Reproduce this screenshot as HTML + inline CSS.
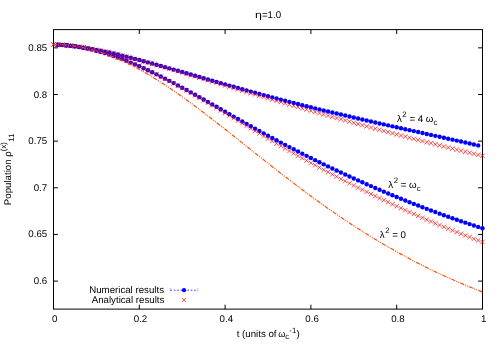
<!DOCTYPE html>
<html><head><meta charset="utf-8"><title>plot</title>
<style>html,body{margin:0;padding:0;background:#fff;width:500px;height:350px;overflow:hidden}svg{display:block}text{font-family:"Liberation Sans",sans-serif}</style>
</head><body>
<svg width="500" height="350" viewBox="0 0 500 350">
<rect width="500" height="350" fill="#fff"/>
<g stroke="#000" stroke-width="1" fill="none">
<path d="M53.5 281.10h4.4M482.5 281.10h-4.4"/>
<path d="M53.5 234.45h4.4M482.5 234.45h-4.4"/>
<path d="M53.5 187.80h4.4M482.5 187.80h-4.4"/>
<path d="M53.5 141.15h4.4M482.5 141.15h-4.4"/>
<path d="M53.5 94.50h4.4M482.5 94.50h-4.4"/>
<path d="M53.5 47.85h4.4M482.5 47.85h-4.4"/>
<path d="M53.50 309.1v-4.4M53.50 29.6v4.4"/>
<path d="M139.30 309.1v-4.4M139.30 29.6v4.4"/>
<path d="M225.10 309.1v-4.4M225.10 29.6v4.4"/>
<path d="M310.90 309.1v-4.4M310.90 29.6v4.4"/>
<path d="M396.70 309.1v-4.4M396.70 29.6v4.4"/>
<path d="M482.50 309.1v-4.4M482.50 29.6v4.4"/>
</g>
<rect x="53.5" y="29.6" width="429.0" height="279.5" fill="none" stroke="#000" stroke-width="1"/>
<g font-family="Liberation Sans, sans-serif" font-size="9.7" fill="#000" text-rendering="geometricPrecision" style="filter:grayscale(1)">
<text x="47.2" y="284.10" text-anchor="end">0.6</text>
<text x="47.2" y="237.45" text-anchor="end">0.65</text>
<text x="47.2" y="190.80" text-anchor="end">0.7</text>
<text x="47.2" y="144.15" text-anchor="end">0.75</text>
<text x="47.2" y="97.50" text-anchor="end">0.8</text>
<text x="47.2" y="50.85" text-anchor="end">0.85</text>
<text x="54.70" y="322" text-anchor="middle">0</text>
<text x="140.50" y="322" text-anchor="middle">0.2</text>
<text x="226.30" y="322" text-anchor="middle">0.4</text>
<text x="312.10" y="322" text-anchor="middle">0.6</text>
<text x="397.90" y="322" text-anchor="middle">0.8</text>
<text x="483.70" y="322" text-anchor="middle">1</text>
<text transform="translate(255.1 18.1) scale(1.28 1)">η</text><text x="261.9" y="18.1">=1.0</text>
<text x="236.7" y="336.5">t (units of <tspan font-family="Liberation Sans, sans-serif" font-size="9.2" x="278.3">ω</tspan><tspan font-size="7.76" x="285.3" dy="2.9">c</tspan><tspan font-size="7.76" x="289.3" dy="-6.4">-1</tspan><tspan x="296.5" dy="3.5">)</tspan></text>
<text transform="translate(10.8 205.2) rotate(-90)">Population <tspan font-family="Liberation Sans, sans-serif">ρ</tspan><tspan font-size="7.76" dy="-4.8">(x)</tspan><tspan font-size="7.76" dy="8.0" dx="0.3">11</tspan></text>
<text x="396.9" y="121.5"><tspan font-family="Liberation Sans, sans-serif">λ</tspan><tspan font-size="7.9" dy="-5" dx="0.6">2</tspan><tspan dy="5"> = 4 <tspan font-family="Liberation Sans, sans-serif">ω</tspan><tspan font-size="7.76" dy="3.1">c</tspan></tspan></text>
<text x="388.2" y="188.1"><tspan font-family="Liberation Sans, sans-serif">λ</tspan><tspan font-size="7.9" dy="-5" dx="0.6">2</tspan><tspan dy="5"> = <tspan font-family="Liberation Sans, sans-serif">ω</tspan><tspan font-size="7.76" dy="3.1">c</tspan></tspan></text>
<text x="379.7" y="238.1"><tspan font-family="Liberation Sans, sans-serif">λ</tspan><tspan font-size="7.9" dy="-5" dx="0.6">2</tspan><tspan dy="5"> = 0</tspan></text>
<text x="164.0" y="293" text-anchor="end">Numerical results</text>
<text x="164.4" y="302.5" text-anchor="end">Analytical results</text>
</g>
<path d="M170.4 290.2H197.8" stroke="#0000ff" stroke-width="0.8" stroke-dasharray="1.6 1.8" fill="none"/>
<path d="M170.2 287.9v4.6M197.8 287.9v4.6" stroke="#0000ff" stroke-width="0.8" stroke-opacity="0.5" stroke-dasharray="1 1.1" fill="none"/>
<circle cx="184" cy="290.2" r="2.15" fill="#0000ff"/>
<path d="M181.80 297.70l4.4 4.4M181.80 302.10l4.4 -4.4" stroke="#ff0000" stroke-width="0.72" fill="none"/>
<path d="M57.79 44.80L62.08 45.10L66.37 45.47L70.66 45.91L74.95 46.42L79.24 47.00L83.53 47.63L87.82 48.33L92.11 49.08L96.40 49.87L100.69 50.72L104.98 51.62L109.27 52.55L113.56 53.53L117.85 54.54L122.14 55.59L126.43 56.66L130.72 57.76L135.01 58.88L139.30 60.03L143.59 61.19L147.88 62.37L152.17 63.55L156.46 64.75L160.75 65.95L165.04 67.16L169.33 68.37L173.62 69.59L177.91 70.82L182.20 72.04L186.49 73.28L190.78 74.51L195.07 75.74L199.36 76.98L203.65 78.21L207.94 79.45L212.23 80.68L216.52 81.91L220.81 83.14L225.10 84.36L229.39 85.58L233.68 86.80L237.97 88.01L242.26 89.21L246.55 90.41L250.84 91.60L255.13 92.78L259.42 93.96L263.71 95.12L268.00 96.27L272.29 97.41L276.58 98.55L280.87 99.67L285.16 100.78L289.45 101.89L293.74 102.98L298.03 104.07L302.32 105.15L306.61 106.22L310.90 107.28L315.19 108.34L319.48 109.39L323.77 110.43L328.06 111.46L332.35 112.49L336.64 113.51L340.93 114.52L345.22 115.53L349.51 116.54L353.80 117.54L358.09 118.53L362.38 119.52L366.67 120.51L370.96 121.49L375.25 122.46L379.54 123.44L383.83 124.41L388.12 125.37L392.41 126.34L396.70 127.30L400.99 128.25L405.28 129.21L409.57 130.17L413.86 131.12L418.15 132.07L422.44 133.02L426.73 133.97L431.02 134.92L435.31 135.87L439.60 136.82L443.89 137.77L448.18 138.72L452.47 139.67L456.76 140.62L461.05 141.57L465.34 142.52L469.63 143.48L473.92 144.44L478.21 145.40" stroke="#0000ff" stroke-width="0.8" stroke-dasharray="1.6 1.8" fill="none"/><g fill="#0000ff"><circle cx="57.79" cy="44.80" r="2.2"/><circle cx="62.08" cy="45.10" r="2.2"/><circle cx="66.37" cy="45.47" r="2.2"/><circle cx="70.66" cy="45.91" r="2.2"/><circle cx="74.95" cy="46.42" r="2.2"/><circle cx="79.24" cy="47.00" r="2.2"/><circle cx="83.53" cy="47.63" r="2.2"/><circle cx="87.82" cy="48.33" r="2.2"/><circle cx="92.11" cy="49.08" r="2.2"/><circle cx="96.40" cy="49.87" r="2.2"/><circle cx="100.69" cy="50.72" r="2.2"/><circle cx="104.98" cy="51.62" r="2.2"/><circle cx="109.27" cy="52.55" r="2.2"/><circle cx="113.56" cy="53.53" r="2.2"/><circle cx="117.85" cy="54.54" r="2.2"/><circle cx="122.14" cy="55.59" r="2.2"/><circle cx="126.43" cy="56.66" r="2.2"/><circle cx="130.72" cy="57.76" r="2.2"/><circle cx="135.01" cy="58.88" r="2.2"/><circle cx="139.30" cy="60.03" r="2.2"/><circle cx="143.59" cy="61.19" r="2.2"/><circle cx="147.88" cy="62.37" r="2.2"/><circle cx="152.17" cy="63.55" r="2.2"/><circle cx="156.46" cy="64.75" r="2.2"/><circle cx="160.75" cy="65.95" r="2.2"/><circle cx="165.04" cy="67.16" r="2.2"/><circle cx="169.33" cy="68.37" r="2.2"/><circle cx="173.62" cy="69.59" r="2.2"/><circle cx="177.91" cy="70.82" r="2.2"/><circle cx="182.20" cy="72.04" r="2.2"/><circle cx="186.49" cy="73.28" r="2.2"/><circle cx="190.78" cy="74.51" r="2.2"/><circle cx="195.07" cy="75.74" r="2.2"/><circle cx="199.36" cy="76.98" r="2.2"/><circle cx="203.65" cy="78.21" r="2.2"/><circle cx="207.94" cy="79.45" r="2.2"/><circle cx="212.23" cy="80.68" r="2.2"/><circle cx="216.52" cy="81.91" r="2.2"/><circle cx="220.81" cy="83.14" r="2.2"/><circle cx="225.10" cy="84.36" r="2.2"/><circle cx="229.39" cy="85.58" r="2.2"/><circle cx="233.68" cy="86.80" r="2.2"/><circle cx="237.97" cy="88.01" r="2.2"/><circle cx="242.26" cy="89.21" r="2.2"/><circle cx="246.55" cy="90.41" r="2.2"/><circle cx="250.84" cy="91.60" r="2.2"/><circle cx="255.13" cy="92.78" r="2.2"/><circle cx="259.42" cy="93.96" r="2.2"/><circle cx="263.71" cy="95.12" r="2.2"/><circle cx="268.00" cy="96.27" r="2.2"/><circle cx="272.29" cy="97.41" r="2.2"/><circle cx="276.58" cy="98.55" r="2.2"/><circle cx="280.87" cy="99.67" r="2.2"/><circle cx="285.16" cy="100.78" r="2.2"/><circle cx="289.45" cy="101.89" r="2.2"/><circle cx="293.74" cy="102.98" r="2.2"/><circle cx="298.03" cy="104.07" r="2.2"/><circle cx="302.32" cy="105.15" r="2.2"/><circle cx="306.61" cy="106.22" r="2.2"/><circle cx="310.90" cy="107.28" r="2.2"/><circle cx="315.19" cy="108.34" r="2.2"/><circle cx="319.48" cy="109.39" r="2.2"/><circle cx="323.77" cy="110.43" r="2.2"/><circle cx="328.06" cy="111.46" r="2.2"/><circle cx="332.35" cy="112.49" r="2.2"/><circle cx="336.64" cy="113.51" r="2.2"/><circle cx="340.93" cy="114.52" r="2.2"/><circle cx="345.22" cy="115.53" r="2.2"/><circle cx="349.51" cy="116.54" r="2.2"/><circle cx="353.80" cy="117.54" r="2.2"/><circle cx="358.09" cy="118.53" r="2.2"/><circle cx="362.38" cy="119.52" r="2.2"/><circle cx="366.67" cy="120.51" r="2.2"/><circle cx="370.96" cy="121.49" r="2.2"/><circle cx="375.25" cy="122.46" r="2.2"/><circle cx="379.54" cy="123.44" r="2.2"/><circle cx="383.83" cy="124.41" r="2.2"/><circle cx="388.12" cy="125.37" r="2.2"/><circle cx="392.41" cy="126.34" r="2.2"/><circle cx="396.70" cy="127.30" r="2.2"/><circle cx="400.99" cy="128.25" r="2.2"/><circle cx="405.28" cy="129.21" r="2.2"/><circle cx="409.57" cy="130.17" r="2.2"/><circle cx="413.86" cy="131.12" r="2.2"/><circle cx="418.15" cy="132.07" r="2.2"/><circle cx="422.44" cy="133.02" r="2.2"/><circle cx="426.73" cy="133.97" r="2.2"/><circle cx="431.02" cy="134.92" r="2.2"/><circle cx="435.31" cy="135.87" r="2.2"/><circle cx="439.60" cy="136.82" r="2.2"/><circle cx="443.89" cy="137.77" r="2.2"/><circle cx="448.18" cy="138.72" r="2.2"/><circle cx="452.47" cy="139.67" r="2.2"/><circle cx="456.76" cy="140.62" r="2.2"/><circle cx="461.05" cy="141.57" r="2.2"/><circle cx="465.34" cy="142.52" r="2.2"/><circle cx="469.63" cy="143.48" r="2.2"/><circle cx="473.92" cy="144.44" r="2.2"/><circle cx="478.21" cy="145.40" r="2.2"/></g>
<path d="M51.30 42.39l4.4 4.4M51.30 46.79l4.4 -4.4M55.59 42.56l4.4 4.4M55.59 46.96l4.4 -4.4M59.88 42.82l4.4 4.4M59.88 47.22l4.4 -4.4M64.17 43.17l4.4 4.4M64.17 47.57l4.4 -4.4M68.46 43.59l4.4 4.4M68.46 47.99l4.4 -4.4M72.75 44.08l4.4 4.4M72.75 48.48l4.4 -4.4M77.04 44.64l4.4 4.4M77.04 49.04l4.4 -4.4M81.33 45.28l4.4 4.4M81.33 49.68l4.4 -4.4M85.62 45.97l4.4 4.4M85.62 50.37l4.4 -4.4M89.91 46.73l4.4 4.4M89.91 51.13l4.4 -4.4M94.20 47.54l4.4 4.4M94.20 51.94l4.4 -4.4M98.49 48.40l4.4 4.4M98.49 52.80l4.4 -4.4M102.78 49.31l4.4 4.4M102.78 53.71l4.4 -4.4M107.07 50.27l4.4 4.4M107.07 54.67l4.4 -4.4M111.36 51.28l4.4 4.4M111.36 55.68l4.4 -4.4M115.65 52.32l4.4 4.4M115.65 56.72l4.4 -4.4M119.94 53.39l4.4 4.4M119.94 57.79l4.4 -4.4M124.23 54.50l4.4 4.4M124.23 58.90l4.4 -4.4M128.52 55.64l4.4 4.4M128.52 60.04l4.4 -4.4M132.81 56.80l4.4 4.4M132.81 61.20l4.4 -4.4M137.10 57.98l4.4 4.4M137.10 62.38l4.4 -4.4M141.39 59.18l4.4 4.4M141.39 63.58l4.4 -4.4M145.68 60.39l4.4 4.4M145.68 64.79l4.4 -4.4M149.97 61.62l4.4 4.4M149.97 66.02l4.4 -4.4M154.26 62.85l4.4 4.4M154.26 67.25l4.4 -4.4M158.55 64.09l4.4 4.4M158.55 68.49l4.4 -4.4M162.84 65.34l4.4 4.4M162.84 69.74l4.4 -4.4M167.13 66.59l4.4 4.4M167.13 70.99l4.4 -4.4M171.42 67.85l4.4 4.4M171.42 72.25l4.4 -4.4M175.71 69.11l4.4 4.4M175.71 73.51l4.4 -4.4M180.00 70.38l4.4 4.4M180.00 74.78l4.4 -4.4M184.29 71.65l4.4 4.4M184.29 76.05l4.4 -4.4M188.58 72.93l4.4 4.4M188.58 77.33l4.4 -4.4M192.87 74.20l4.4 4.4M192.87 78.60l4.4 -4.4M197.16 75.49l4.4 4.4M197.16 79.89l4.4 -4.4M201.45 76.77l4.4 4.4M201.45 81.17l4.4 -4.4M205.74 78.06l4.4 4.4M205.74 82.46l4.4 -4.4M210.03 79.35l4.4 4.4M210.03 83.75l4.4 -4.4M214.32 80.64l4.4 4.4M214.32 85.04l4.4 -4.4M218.61 81.93l4.4 4.4M218.61 86.33l4.4 -4.4M222.90 83.22l4.4 4.4M222.90 87.62l4.4 -4.4M227.19 84.51l4.4 4.4M227.19 88.91l4.4 -4.4M231.48 85.80l4.4 4.4M231.48 90.20l4.4 -4.4M235.77 87.09l4.4 4.4M235.77 91.49l4.4 -4.4M240.06 88.38l4.4 4.4M240.06 92.78l4.4 -4.4M244.35 89.66l4.4 4.4M244.35 94.06l4.4 -4.4M248.64 90.95l4.4 4.4M248.64 95.35l4.4 -4.4M252.93 92.23l4.4 4.4M252.93 96.63l4.4 -4.4M257.22 93.51l4.4 4.4M257.22 97.91l4.4 -4.4M261.51 94.79l4.4 4.4M261.51 99.19l4.4 -4.4M265.80 96.06l4.4 4.4M265.80 100.46l4.4 -4.4M270.09 97.32l4.4 4.4M270.09 101.72l4.4 -4.4M274.38 98.59l4.4 4.4M274.38 102.99l4.4 -4.4M278.67 99.85l4.4 4.4M278.67 104.25l4.4 -4.4M282.96 101.10l4.4 4.4M282.96 105.50l4.4 -4.4M287.25 102.36l4.4 4.4M287.25 106.76l4.4 -4.4M291.54 103.60l4.4 4.4M291.54 108.00l4.4 -4.4M295.83 104.85l4.4 4.4M295.83 109.25l4.4 -4.4M300.12 106.09l4.4 4.4M300.12 110.49l4.4 -4.4M304.41 107.32l4.4 4.4M304.41 111.72l4.4 -4.4M308.70 108.55l4.4 4.4M308.70 112.95l4.4 -4.4M312.99 109.78l4.4 4.4M312.99 114.18l4.4 -4.4M317.28 111.00l4.4 4.4M317.28 115.40l4.4 -4.4M321.57 112.22l4.4 4.4M321.57 116.62l4.4 -4.4M325.86 113.43l4.4 4.4M325.86 117.83l4.4 -4.4M330.15 114.64l4.4 4.4M330.15 119.04l4.4 -4.4M334.44 115.84l4.4 4.4M334.44 120.24l4.4 -4.4M338.73 117.04l4.4 4.4M338.73 121.44l4.4 -4.4M343.02 118.23l4.4 4.4M343.02 122.63l4.4 -4.4M347.31 119.42l4.4 4.4M347.31 123.82l4.4 -4.4M351.60 120.61l4.4 4.4M351.60 125.01l4.4 -4.4M355.89 121.79l4.4 4.4M355.89 126.19l4.4 -4.4M360.18 122.96l4.4 4.4M360.18 127.36l4.4 -4.4M364.47 124.13l4.4 4.4M364.47 128.53l4.4 -4.4M368.76 125.29l4.4 4.4M368.76 129.69l4.4 -4.4M373.05 126.45l4.4 4.4M373.05 130.85l4.4 -4.4M377.34 127.60l4.4 4.4M377.34 132.00l4.4 -4.4M381.63 128.75l4.4 4.4M381.63 133.15l4.4 -4.4M385.92 129.90l4.4 4.4M385.92 134.30l4.4 -4.4M390.21 131.03l4.4 4.4M390.21 135.43l4.4 -4.4M394.50 132.17l4.4 4.4M394.50 136.57l4.4 -4.4M398.79 133.29l4.4 4.4M398.79 137.69l4.4 -4.4M403.08 134.42l4.4 4.4M403.08 138.82l4.4 -4.4M407.37 135.53l4.4 4.4M407.37 139.93l4.4 -4.4M411.66 136.64l4.4 4.4M411.66 141.04l4.4 -4.4M415.95 137.75l4.4 4.4M415.95 142.15l4.4 -4.4M420.24 138.85l4.4 4.4M420.24 143.25l4.4 -4.4M424.53 139.94l4.4 4.4M424.53 144.34l4.4 -4.4M428.82 141.03l4.4 4.4M428.82 145.43l4.4 -4.4M433.11 142.11l4.4 4.4M433.11 146.51l4.4 -4.4M437.40 143.18l4.4 4.4M437.40 147.58l4.4 -4.4M441.69 144.25l4.4 4.4M441.69 148.65l4.4 -4.4M445.98 145.32l4.4 4.4M445.98 149.72l4.4 -4.4M450.27 146.37l4.4 4.4M450.27 150.77l4.4 -4.4M454.56 147.42l4.4 4.4M454.56 151.82l4.4 -4.4M458.85 148.47l4.4 4.4M458.85 152.87l4.4 -4.4M463.14 149.51l4.4 4.4M463.14 153.91l4.4 -4.4M467.43 150.54l4.4 4.4M467.43 154.94l4.4 -4.4M471.72 151.57l4.4 4.4M471.72 155.97l4.4 -4.4M476.01 152.59l4.4 4.4M476.01 156.99l4.4 -4.4M480.30 153.60l4.4 4.4M480.30 158.00l4.4 -4.4" stroke="#ff0000" stroke-width="0.72" fill="none"/>
<path d="M57.79 44.66L62.08 44.87L66.37 45.20L70.66 45.65L74.95 46.22L79.24 46.90L83.53 47.69L87.82 48.59L92.11 49.59L96.40 50.68L100.69 51.88L104.98 53.16L109.27 54.53L113.56 55.99L117.85 57.52L122.14 59.14L126.43 60.82L130.72 62.58L135.01 64.40L139.30 66.28L143.59 68.22L147.88 70.21L152.17 72.25L156.46 74.35L160.75 76.48L165.04 78.65L169.33 80.87L173.62 83.11L177.91 85.38L182.20 87.69L186.49 90.01L190.78 92.36L195.07 94.74L199.36 97.13L203.65 99.53L207.94 101.95L212.23 104.38L216.52 106.81L220.81 109.25L225.10 111.69L229.39 114.14L233.68 116.58L237.97 119.01L242.26 121.44L246.55 123.85L250.84 126.25L255.13 128.64L259.42 131.01L263.71 133.36L268.00 135.70L272.29 138.01L276.58 140.31L280.87 142.58L285.16 144.84L289.45 147.08L293.74 149.31L298.03 151.51L302.32 153.69L306.61 155.86L310.90 158.01L315.19 160.14L319.48 162.25L323.77 164.34L328.06 166.41L332.35 168.47L336.64 170.50L340.93 172.52L345.22 174.52L349.51 176.50L353.80 178.46L358.09 180.40L362.38 182.32L366.67 184.22L370.96 186.11L375.25 187.97L379.54 189.82L383.83 191.64L388.12 193.45L392.41 195.24L396.70 197.01L400.99 198.76L405.28 200.49L409.57 202.20L413.86 203.89L418.15 205.56L422.44 207.21L426.73 208.85L431.02 210.46L435.31 212.05L439.60 213.63L443.89 215.18L448.18 216.72L452.47 218.23L456.76 219.73L461.05 221.20L465.34 222.66L469.63 224.09L473.92 225.51L478.21 226.91L482.50 228.28" stroke="#0000ff" stroke-width="0.8" stroke-dasharray="1.6 1.8" fill="none"/><g fill="#0000ff"><circle cx="57.79" cy="44.66" r="2.2"/><circle cx="62.08" cy="44.87" r="2.2"/><circle cx="66.37" cy="45.20" r="2.2"/><circle cx="70.66" cy="45.65" r="2.2"/><circle cx="74.95" cy="46.22" r="2.2"/><circle cx="79.24" cy="46.90" r="2.2"/><circle cx="83.53" cy="47.69" r="2.2"/><circle cx="87.82" cy="48.59" r="2.2"/><circle cx="92.11" cy="49.59" r="2.2"/><circle cx="96.40" cy="50.68" r="2.2"/><circle cx="100.69" cy="51.88" r="2.2"/><circle cx="104.98" cy="53.16" r="2.2"/><circle cx="109.27" cy="54.53" r="2.2"/><circle cx="113.56" cy="55.99" r="2.2"/><circle cx="117.85" cy="57.52" r="2.2"/><circle cx="122.14" cy="59.14" r="2.2"/><circle cx="126.43" cy="60.82" r="2.2"/><circle cx="130.72" cy="62.58" r="2.2"/><circle cx="135.01" cy="64.40" r="2.2"/><circle cx="139.30" cy="66.28" r="2.2"/><circle cx="143.59" cy="68.22" r="2.2"/><circle cx="147.88" cy="70.21" r="2.2"/><circle cx="152.17" cy="72.25" r="2.2"/><circle cx="156.46" cy="74.35" r="2.2"/><circle cx="160.75" cy="76.48" r="2.2"/><circle cx="165.04" cy="78.65" r="2.2"/><circle cx="169.33" cy="80.87" r="2.2"/><circle cx="173.62" cy="83.11" r="2.2"/><circle cx="177.91" cy="85.38" r="2.2"/><circle cx="182.20" cy="87.69" r="2.2"/><circle cx="186.49" cy="90.01" r="2.2"/><circle cx="190.78" cy="92.36" r="2.2"/><circle cx="195.07" cy="94.74" r="2.2"/><circle cx="199.36" cy="97.13" r="2.2"/><circle cx="203.65" cy="99.53" r="2.2"/><circle cx="207.94" cy="101.95" r="2.2"/><circle cx="212.23" cy="104.38" r="2.2"/><circle cx="216.52" cy="106.81" r="2.2"/><circle cx="220.81" cy="109.25" r="2.2"/><circle cx="225.10" cy="111.69" r="2.2"/><circle cx="229.39" cy="114.14" r="2.2"/><circle cx="233.68" cy="116.58" r="2.2"/><circle cx="237.97" cy="119.01" r="2.2"/><circle cx="242.26" cy="121.44" r="2.2"/><circle cx="246.55" cy="123.85" r="2.2"/><circle cx="250.84" cy="126.25" r="2.2"/><circle cx="255.13" cy="128.64" r="2.2"/><circle cx="259.42" cy="131.01" r="2.2"/><circle cx="263.71" cy="133.36" r="2.2"/><circle cx="268.00" cy="135.70" r="2.2"/><circle cx="272.29" cy="138.01" r="2.2"/><circle cx="276.58" cy="140.31" r="2.2"/><circle cx="280.87" cy="142.58" r="2.2"/><circle cx="285.16" cy="144.84" r="2.2"/><circle cx="289.45" cy="147.08" r="2.2"/><circle cx="293.74" cy="149.31" r="2.2"/><circle cx="298.03" cy="151.51" r="2.2"/><circle cx="302.32" cy="153.69" r="2.2"/><circle cx="306.61" cy="155.86" r="2.2"/><circle cx="310.90" cy="158.01" r="2.2"/><circle cx="315.19" cy="160.14" r="2.2"/><circle cx="319.48" cy="162.25" r="2.2"/><circle cx="323.77" cy="164.34" r="2.2"/><circle cx="328.06" cy="166.41" r="2.2"/><circle cx="332.35" cy="168.47" r="2.2"/><circle cx="336.64" cy="170.50" r="2.2"/><circle cx="340.93" cy="172.52" r="2.2"/><circle cx="345.22" cy="174.52" r="2.2"/><circle cx="349.51" cy="176.50" r="2.2"/><circle cx="353.80" cy="178.46" r="2.2"/><circle cx="358.09" cy="180.40" r="2.2"/><circle cx="362.38" cy="182.32" r="2.2"/><circle cx="366.67" cy="184.22" r="2.2"/><circle cx="370.96" cy="186.11" r="2.2"/><circle cx="375.25" cy="187.97" r="2.2"/><circle cx="379.54" cy="189.82" r="2.2"/><circle cx="383.83" cy="191.64" r="2.2"/><circle cx="388.12" cy="193.45" r="2.2"/><circle cx="392.41" cy="195.24" r="2.2"/><circle cx="396.70" cy="197.01" r="2.2"/><circle cx="400.99" cy="198.76" r="2.2"/><circle cx="405.28" cy="200.49" r="2.2"/><circle cx="409.57" cy="202.20" r="2.2"/><circle cx="413.86" cy="203.89" r="2.2"/><circle cx="418.15" cy="205.56" r="2.2"/><circle cx="422.44" cy="207.21" r="2.2"/><circle cx="426.73" cy="208.85" r="2.2"/><circle cx="431.02" cy="210.46" r="2.2"/><circle cx="435.31" cy="212.05" r="2.2"/><circle cx="439.60" cy="213.63" r="2.2"/><circle cx="443.89" cy="215.18" r="2.2"/><circle cx="448.18" cy="216.72" r="2.2"/><circle cx="452.47" cy="218.23" r="2.2"/><circle cx="456.76" cy="219.73" r="2.2"/><circle cx="461.05" cy="221.20" r="2.2"/><circle cx="465.34" cy="222.66" r="2.2"/><circle cx="469.63" cy="224.09" r="2.2"/><circle cx="473.92" cy="225.51" r="2.2"/><circle cx="478.21" cy="226.91" r="2.2"/><circle cx="482.50" cy="228.28" r="2.2"/></g>
<path d="M51.30 42.39l4.4 4.4M51.30 46.79l4.4 -4.4M55.59 42.46l4.4 4.4M55.59 46.86l4.4 -4.4M59.88 42.65l4.4 4.4M59.88 47.05l4.4 -4.4M64.17 42.97l4.4 4.4M64.17 47.37l4.4 -4.4M68.46 43.41l4.4 4.4M68.46 47.81l4.4 -4.4M72.75 43.97l4.4 4.4M72.75 48.37l4.4 -4.4M77.04 44.65l4.4 4.4M77.04 49.05l4.4 -4.4M81.33 45.44l4.4 4.4M81.33 49.84l4.4 -4.4M85.62 46.33l4.4 4.4M85.62 50.73l4.4 -4.4M89.91 47.33l4.4 4.4M89.91 51.73l4.4 -4.4M94.20 48.43l4.4 4.4M94.20 52.83l4.4 -4.4M98.49 49.62l4.4 4.4M98.49 54.02l4.4 -4.4M102.78 50.91l4.4 4.4M102.78 55.31l4.4 -4.4M107.07 52.28l4.4 4.4M107.07 56.68l4.4 -4.4M111.36 53.75l4.4 4.4M111.36 58.15l4.4 -4.4M115.65 55.29l4.4 4.4M115.65 59.69l4.4 -4.4M119.94 56.92l4.4 4.4M119.94 61.32l4.4 -4.4M124.23 58.62l4.4 4.4M124.23 63.02l4.4 -4.4M128.52 60.39l4.4 4.4M128.52 64.79l4.4 -4.4M132.81 62.22l4.4 4.4M132.81 66.62l4.4 -4.4M137.10 64.13l4.4 4.4M137.10 68.53l4.4 -4.4M141.39 66.09l4.4 4.4M141.39 70.49l4.4 -4.4M145.68 68.11l4.4 4.4M145.68 72.51l4.4 -4.4M149.97 70.19l4.4 4.4M149.97 74.59l4.4 -4.4M154.26 72.31l4.4 4.4M154.26 76.71l4.4 -4.4M158.55 74.49l4.4 4.4M158.55 78.89l4.4 -4.4M162.84 76.70l4.4 4.4M162.84 81.10l4.4 -4.4M167.13 78.95l4.4 4.4M167.13 83.35l4.4 -4.4M171.42 81.25l4.4 4.4M171.42 85.65l4.4 -4.4M175.71 83.57l4.4 4.4M175.71 87.97l4.4 -4.4M180.00 85.93l4.4 4.4M180.00 90.33l4.4 -4.4M184.29 88.32l4.4 4.4M184.29 92.72l4.4 -4.4M188.58 90.74l4.4 4.4M188.58 95.14l4.4 -4.4M192.87 93.18l4.4 4.4M192.87 97.58l4.4 -4.4M197.16 95.64l4.4 4.4M197.16 100.04l4.4 -4.4M201.45 98.13l4.4 4.4M201.45 102.53l4.4 -4.4M205.74 100.63l4.4 4.4M205.74 105.03l4.4 -4.4M210.03 103.15l4.4 4.4M210.03 107.55l4.4 -4.4M214.32 105.69l4.4 4.4M214.32 110.09l4.4 -4.4M218.61 108.24l4.4 4.4M218.61 112.64l4.4 -4.4M222.90 110.79l4.4 4.4M222.90 115.19l4.4 -4.4M227.19 113.35l4.4 4.4M227.19 117.75l4.4 -4.4M231.48 115.92l4.4 4.4M231.48 120.32l4.4 -4.4M235.77 118.49l4.4 4.4M235.77 122.89l4.4 -4.4M240.06 121.06l4.4 4.4M240.06 125.46l4.4 -4.4M244.35 123.63l4.4 4.4M244.35 128.03l4.4 -4.4M248.64 126.19l4.4 4.4M248.64 130.59l4.4 -4.4M252.93 128.74l4.4 4.4M252.93 133.14l4.4 -4.4M257.22 131.29l4.4 4.4M257.22 135.69l4.4 -4.4M261.51 133.83l4.4 4.4M261.51 138.23l4.4 -4.4M265.80 136.35l4.4 4.4M265.80 140.75l4.4 -4.4M270.09 138.85l4.4 4.4M270.09 143.25l4.4 -4.4M274.38 141.34l4.4 4.4M274.38 145.74l4.4 -4.4M278.67 143.81l4.4 4.4M278.67 148.21l4.4 -4.4M282.96 146.27l4.4 4.4M282.96 150.67l4.4 -4.4M287.25 148.71l4.4 4.4M287.25 153.11l4.4 -4.4M291.54 151.13l4.4 4.4M291.54 155.53l4.4 -4.4M295.83 153.54l4.4 4.4M295.83 157.94l4.4 -4.4M300.12 155.93l4.4 4.4M300.12 160.33l4.4 -4.4M304.41 158.30l4.4 4.4M304.41 162.70l4.4 -4.4M308.70 160.65l4.4 4.4M308.70 165.05l4.4 -4.4M312.99 162.99l4.4 4.4M312.99 167.39l4.4 -4.4M317.28 165.31l4.4 4.4M317.28 169.71l4.4 -4.4M321.57 167.61l4.4 4.4M321.57 172.01l4.4 -4.4M325.86 169.90l4.4 4.4M325.86 174.30l4.4 -4.4M330.15 172.17l4.4 4.4M330.15 176.57l4.4 -4.4M334.44 174.42l4.4 4.4M334.44 178.82l4.4 -4.4M338.73 176.65l4.4 4.4M338.73 181.05l4.4 -4.4M343.02 178.87l4.4 4.4M343.02 183.27l4.4 -4.4M347.31 181.06l4.4 4.4M347.31 185.46l4.4 -4.4M351.60 183.24l4.4 4.4M351.60 187.64l4.4 -4.4M355.89 185.40l4.4 4.4M355.89 189.80l4.4 -4.4M360.18 187.55l4.4 4.4M360.18 191.95l4.4 -4.4M364.47 189.67l4.4 4.4M364.47 194.07l4.4 -4.4M368.76 191.78l4.4 4.4M368.76 196.18l4.4 -4.4M373.05 193.87l4.4 4.4M373.05 198.27l4.4 -4.4M377.34 195.94l4.4 4.4M377.34 200.34l4.4 -4.4M381.63 197.99l4.4 4.4M381.63 202.39l4.4 -4.4M385.92 200.02l4.4 4.4M385.92 204.42l4.4 -4.4M390.21 202.03l4.4 4.4M390.21 206.43l4.4 -4.4M394.50 204.03l4.4 4.4M394.50 208.43l4.4 -4.4M398.79 206.00l4.4 4.4M398.79 210.40l4.4 -4.4M403.08 207.96l4.4 4.4M403.08 212.36l4.4 -4.4M407.37 209.89l4.4 4.4M407.37 214.29l4.4 -4.4M411.66 211.81l4.4 4.4M411.66 216.21l4.4 -4.4M415.95 213.71l4.4 4.4M415.95 218.11l4.4 -4.4M420.24 215.59l4.4 4.4M420.24 219.99l4.4 -4.4M424.53 217.45l4.4 4.4M424.53 221.85l4.4 -4.4M428.82 219.29l4.4 4.4M428.82 223.69l4.4 -4.4M433.11 221.11l4.4 4.4M433.11 225.51l4.4 -4.4M437.40 222.91l4.4 4.4M437.40 227.31l4.4 -4.4M441.69 224.69l4.4 4.4M441.69 229.09l4.4 -4.4M445.98 226.44l4.4 4.4M445.98 230.84l4.4 -4.4M450.27 228.18l4.4 4.4M450.27 232.58l4.4 -4.4M454.56 229.90l4.4 4.4M454.56 234.30l4.4 -4.4M458.85 231.60l4.4 4.4M458.85 236.00l4.4 -4.4M463.14 233.28l4.4 4.4M463.14 237.68l4.4 -4.4M467.43 234.94l4.4 4.4M467.43 239.34l4.4 -4.4M471.72 236.58l4.4 4.4M471.72 240.98l4.4 -4.4M476.01 238.19l4.4 4.4M476.01 242.59l4.4 -4.4M480.30 239.79l4.4 4.4M480.30 244.19l4.4 -4.4" stroke="#ff0000" stroke-width="0.72" fill="none"/>
<path d="M53.50 44.54L55.65 44.55L57.79 44.60L59.94 44.68L62.08 44.80L64.22 44.95L66.37 45.13L68.52 45.34L70.66 45.59L72.81 45.87L74.95 46.18L77.09 46.52L79.24 46.90L81.39 47.30L83.53 47.74L85.67 48.21L87.82 48.72L89.97 49.25L92.11 49.81L94.25 50.41L96.40 51.03L98.55 51.69L100.69 52.38L102.84 53.09L104.98 53.83L107.12 54.61L109.27 55.41L111.42 56.24L113.56 57.10L115.70 57.98L117.85 58.89L120.00 59.83L122.14 60.80L124.28 61.79L126.43 62.81L128.57 63.85L130.72 64.91L132.87 66.01L135.01 67.12L137.16 68.26L139.30 69.42L141.44 70.61L143.59 71.81L145.74 73.04L147.88 74.29L150.03 75.56L152.17 76.85L154.31 78.16L156.46 79.49L158.61 80.84L160.75 82.20L162.89 83.59L165.04 84.99L167.19 86.40L169.33 87.84L171.48 89.29L173.62 90.75L175.77 92.23L177.91 93.73L180.06 95.24L182.20 96.76L184.34 98.29L186.49 99.84L188.63 101.40L190.78 102.97L192.93 104.55L195.07 106.14L197.22 107.74L199.36 109.36L201.51 110.98L203.65 112.60L205.79 114.24L207.94 115.88L210.09 117.54L212.23 119.19L214.38 120.86L216.52 122.53L218.66 124.20L220.81 125.88L222.96 127.57L225.10 129.26L227.25 130.95L229.39 132.64L231.54 134.34L233.68 136.04L235.82 137.75L237.97 139.45L240.12 141.16L242.26 142.86L244.41 144.57L246.55 146.28L248.69 147.99L250.84 149.69L252.99 151.40L255.13 153.10L257.27 154.81L259.42 156.51L261.56 158.21L263.71 159.90L265.86 161.60L268.00 163.29L270.14 164.97L272.29 166.66L274.44 168.34L276.58 170.01L278.73 171.68L280.87 173.35L283.01 175.01L285.16 176.67L287.31 178.32L289.45 179.96L291.60 181.60L293.74 183.23L295.88 184.86L298.03 186.48L300.18 188.09L302.32 189.70L304.46 191.30L306.61 192.89L308.75 194.48L310.90 196.06L313.05 197.63L315.19 199.19L317.33 200.74L319.48 202.29L321.62 203.82L323.77 205.35L325.92 206.87L328.06 208.39L330.20 209.89L332.35 211.38L334.50 212.87L336.64 214.34L338.79 215.81L340.93 217.27L343.08 218.72L345.22 220.16L347.37 221.59L349.51 223.01L351.66 224.42L353.80 225.82L355.94 227.21L358.09 228.59L360.24 229.96L362.38 231.32L364.52 232.68L366.67 234.02L368.81 235.35L370.96 236.67L373.11 237.99L375.25 239.29L377.39 240.58L379.54 241.86L381.69 243.13L383.83 244.40L385.98 245.65L388.12 246.89L390.26 248.12L392.41 249.34L394.56 250.55L396.70 251.76L398.85 252.95L400.99 254.13L403.14 255.30L405.28 256.46L407.43 257.61L409.57 258.75L411.71 259.89L413.86 261.01L416.00 262.12L418.15 263.22L420.30 264.31L422.44 265.40L424.58 266.47L426.73 267.53L428.88 268.59L431.02 269.63L433.17 270.67L435.31 271.69L437.45 272.71L439.60 273.71L441.75 274.71L443.89 275.70L446.04 276.67L448.18 277.64L450.33 278.60L452.47 279.55L454.62 280.49L456.76 281.43L458.91 282.35L461.05 283.26L463.20 284.17L465.34 285.07L467.49 285.96L469.63 286.84L471.77 287.71L473.92 288.57L476.06 289.42L478.21 290.27L480.36 291.10L482.50 291.93" stroke="#ff4d00" stroke-width="1.2" stroke-dasharray="1 1.2 4.2 1.2 1 1.15" stroke-dashoffset="3.0" fill="none"/>
</svg>
</body></html>
